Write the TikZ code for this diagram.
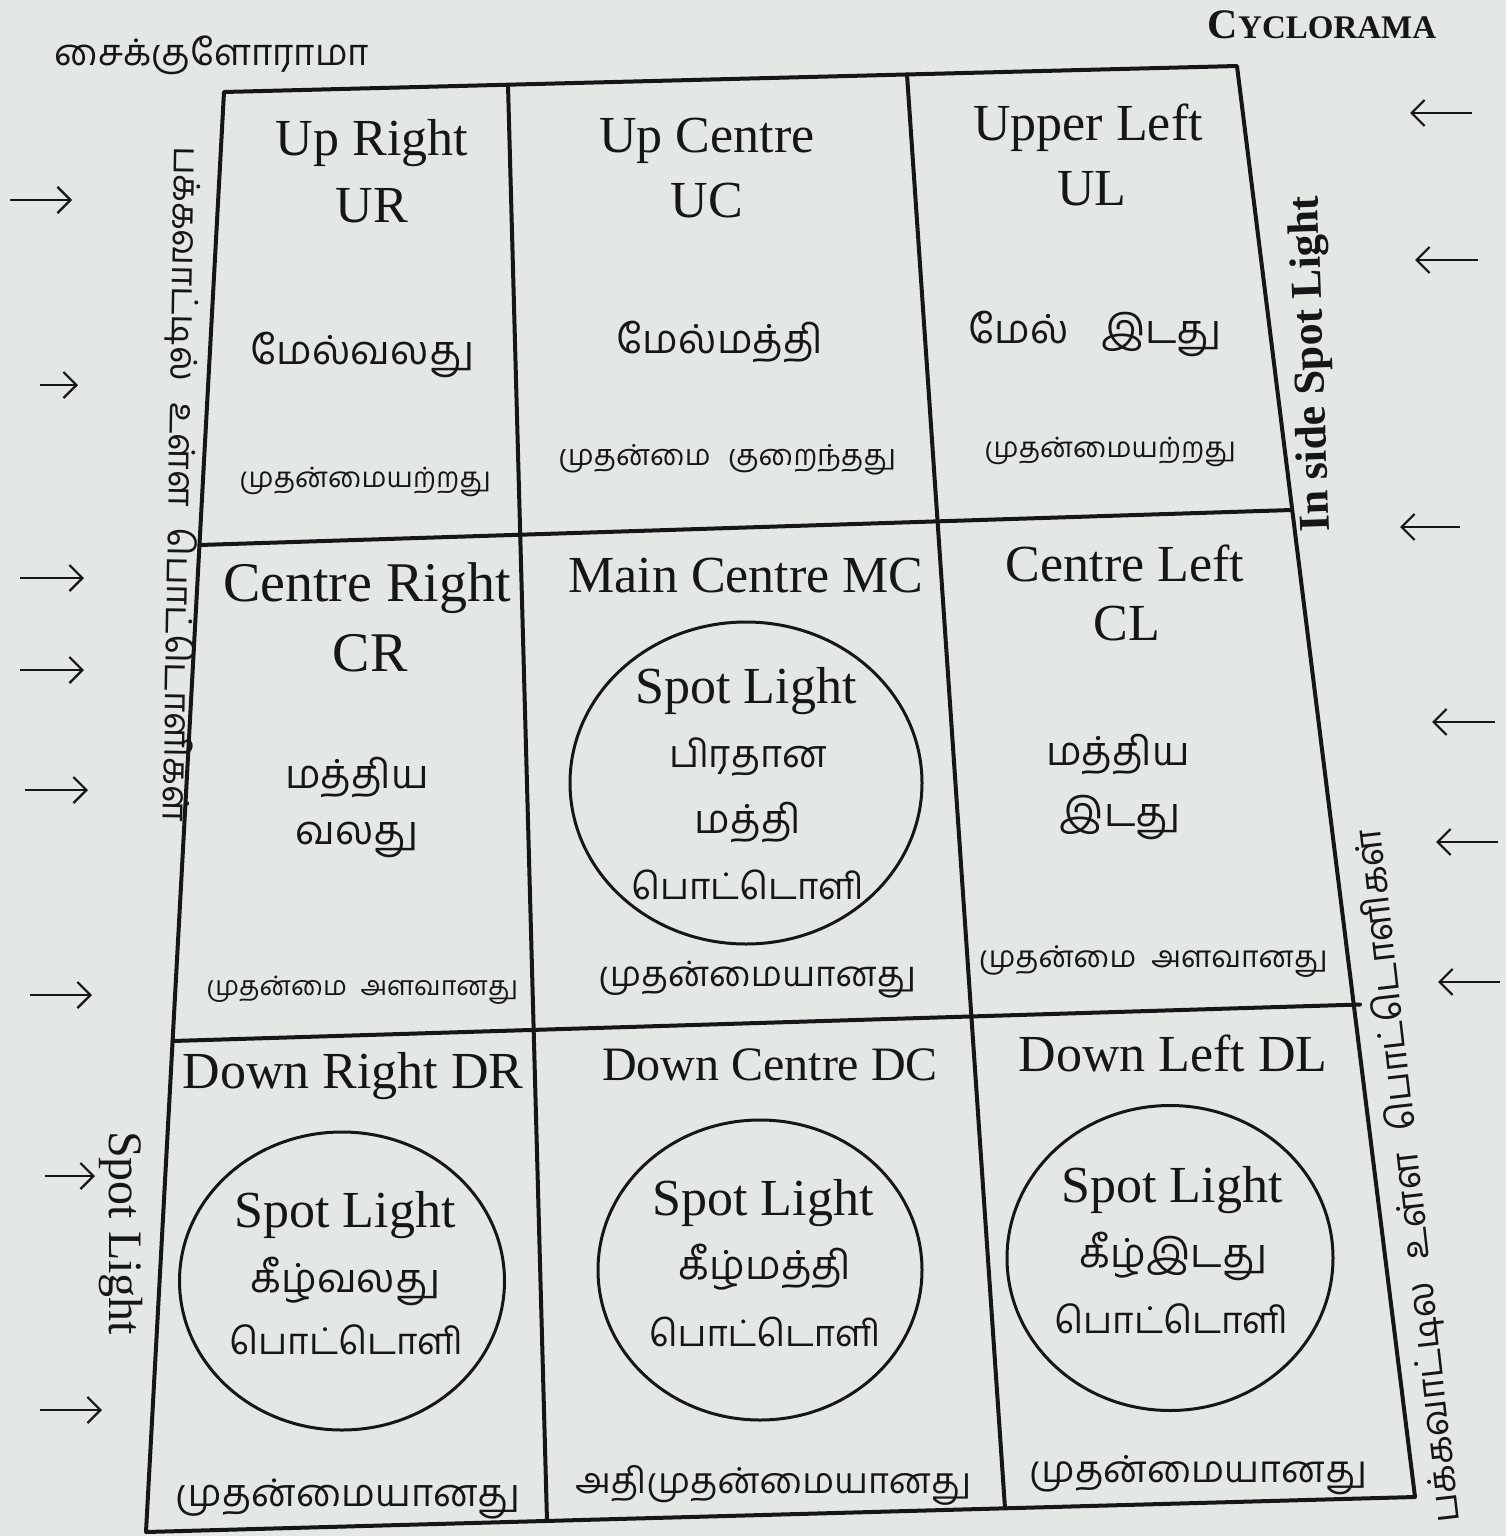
\documentclass[tikz,border=0pt]{standalone}
\usepackage{fontspec}
\setmainfont{Liberation Serif}
\newfontfamily\tamil[Script=Tamil]{Hind Madurai}
\usetikzlibrary{arrows.meta,shapes.geometric}
\definecolor{paper}{RGB}{227,232,229}
\definecolor{ink}{RGB}{22,22,22}
\newcommand{\tsz}[1]{\tamil\fontsize{#1}{#1}\selectfont}
\begin{document}
\begin{tikzpicture}[x=0.5pt,y=-0.5pt,
  en/.style={font=\fontsize{26}{26}\selectfont, text=ink, inner sep=0pt},
  ta/.style={font=\tsz{20}, text=ink, inner sep=0pt},
  tas/.style={font=\tsz{14}, text=ink, inner sep=0pt},
  tam/.style={font=\tsz{18.5}, text=ink, inner sep=0pt},
  gridline/.style={draw=ink, line width=2pt, line cap=round, line join=round},
  spot/.style={draw=ink, line width=1.5pt, ellipse, inner sep=0pt},
  arr/.style={draw=ink, line width=1.1pt, -{Straight Barb[length=6.5pt,width=13pt,line width=1.1pt]}}]
\fill[paper] (0,0) rectangle (1506,1536);
\useasboundingbox (0,0) rectangle (1506,1536);

% grid coordinates
\coordinate (TL) at (224,92);
\coordinate (TR) at (1237,66);
\coordinate (BR) at (1415,1497);
\coordinate (BL) at (146,1532);
\coordinate (H1L) at (199.5,545);
\coordinate (H1R) at (1292,510);
\coordinate (H2L) at (172.6,1041);
\coordinate (H2R) at (1360,1004.5);
\coordinate (V1T) at (508,85);
\coordinate (V1B) at (547,1521);
\coordinate (V2T) at (907,74.5);
\coordinate (V2B) at (1005,1508);

\draw[gridline] (TL) -- (TR) -- (BR) -- (BL) -- cycle;
\draw[gridline] (H1L) -- (H1R);
\draw[gridline] (H2L) -- (H2R);
\draw[gridline] (V1T) -- (V1B);
\draw[gridline] (V2T) -- (V2B);

% spot light ellipses
\node[spot, minimum width=176pt, minimum height=161pt] (mcspot) at (746,783) {};
\node[spot, minimum width=162.5pt, minimum height=149pt] (drspot) at (342,1281) {};
\node[spot, minimum width=162pt, minimum height=150pt] (dcspot) at (760,1270) {};
\node[spot, minimum width=163pt, minimum height=152.5pt] (dlspot) at (1170,1258) {};

% row 1
\node[en] (urt) at (372,143) {Up Right};
\node[en] (urc) at (372,206) {UR};
\node[ta] (urta) at (362,355) {மேல்வலது};
\node[tas] (urpr) at (365,482) {முதன்மையற்றது};
\node[en] (uct) at (707,141) {Up Centre};
\node[en] (ucc) at (707,201) {UC};
\node[ta] (ucta) at (720,342) {மேல்மத்தி};
\node[tas, font=\tsz{14.5}] (ucpr) at (727,460) {முதன்மை\hspace{0.6em}குறைந்தது};
\node[en] (ult) at (1088,128) {Upper Left};
\node[en] (ulc) at (1092,189) {UL};
\node[ta] (ulta) at (1095,334) {மேல்\hspace{0.8em}இடது};
\node[tas] (ulpr) at (1110,452) {முதன்மையற்றது};

% row 2
\node[en, font=\fontsize{28}{28}\selectfont] (crt) at (367,588) {Centre Right};
\node[en, font=\fontsize{28}{28}\selectfont] (crc) at (370,653) {CR};
\node[ta] (crta) at (357,777) {மத்திய};
\node[ta] (crtb) at (357,840) {வலது};
\node[tas, font=\tsz{13.4}] (crpr) at (362,990) {முதன்மை\hspace{0.5em}அளவானது};
\node[en] (mct) at (746,576) {Main Centre MC};
\node[en] (mcs) at (746,691) {Spot Light};
\node[ta, font=\tsz{19}] (mca) at (748,757) {பிரதான};
\node[ta] (mcb) at (748,822) {மத்தி};
\node[ta, font=\tsz{18.3}] (mcc) at (748,885) {பொட்டொளி};
\node[tam, font=\tsz{17.5}] (mcpr) at (757,980) {முதன்மையானது};
\node[en] (clt) at (1125,563) {Centre Left};
\node[en] (clc) at (1127,624) {CL};
\node[ta] (clta) at (1118,754) {மத்திய};
\node[ta] (cltb) at (1120,817) {இடது};
\node[tas, font=\tsz{15}] (clpr) at (1153,962) {முதன்மை\hspace{0.5em}அளவானது};

% row 3
\node[en] (drt) at (353,1076) {Down Right DR};
\node[en] (drs) at (345,1215) {Spot Light};
\node[ta] (dra) at (345,1281) {கீழ்வலது};
\node[ta, font=\tsz{18.4}] (drb) at (347,1340) {பொட்டொளி};
\node[tam, font=\tsz{19}] (drpr) at (348,1499) {முதன்மையானது};
\node[en, font=\fontsize{24}{24}\selectfont] (dct) at (770,1065) {Down Centre DC};
\node[en] (dcs) at (763,1203) {Spot Light};
\node[ta] (dca) at (765,1267) {கீழ்மத்தி};
\node[ta, font=\tsz{18.2}] (dcb) at (765,1332) {பொட்டொளி};
\node[tam, font=\tsz{17.9}] (dcpr) at (773,1485) {அதிமுதன்மையானது};
\node[en] (dlt) at (1173,1053) {Down Left DL};
\node[en] (dls) at (1172,1190) {Spot Light};
\node[ta] (dla) at (1173,1256) {கீழ்இடது};
\node[ta, font=\tsz{18.4}] (dlb) at (1172,1319) {பொட்டொளி};
\node[tam, font=\tsz{18.6}] (dlpr) at (1198,1475) {முதன்மையானது};

% outside labels
\node[tam, font=\tsz{18.3}] (cyta) at (212,55) {சைக்குளோராமா};
\node[text=ink, inner sep=0pt, font=\bfseries] (cyen) at (1322,25) {{\fontsize{21}{21}\selectfont C}{\fontsize{16.5}{16.5}\selectfont YCLORAMA}};
\node[tam, font=\tsz{18}, rotate=-91] (leftta) at (180,484) {பக்கவாட்டில்\hspace{0.6em}உள்ள\hspace{0.6em}பொட்டொளிகள்};
\node[tam, font=\tsz{18.6}, rotate=96.5] (rightta) at (1409,1176) {பக்கவாட்டில\hspace{0.6em}உள்ள\hspace{0.6em}பொட்டொளிகள்};
\node[text=ink, inner sep=0pt, font=\bfseries\fontsize{22}{22}\selectfont, rotate=92] (inside) at (1313,364) {In side Spot Light};
\node[text=ink, inner sep=0pt, font=\fontsize{24}{24}\selectfont, rotate=-90] (leftspot) at (121,1233) {Spot Light};

% left arrows
\foreach \i/\xa/\xb/\yy in {1/10/72/200, 2/40/78/385, 3/20/84/578, 4/20/84/670, 5/25/88/790, 6/30/92/995, 7/45/95/1176, 8/40/102/1410}{
  \coordinate (la\i s) at (\xa,\yy);
  \coordinate (la\i e) at (\xb,\yy);
  \draw[arr] (la\i s) -- (la\i e);
}
% right arrows
\foreach \i/\xa/\xb/\yy in {1/1472/1410/113, 2/1478/1415/260, 3/1460/1400/527, 4/1495/1432/722, 5/1498/1436/842, 6/1500/1438/982}{
  \coordinate (ra\i s) at (\xa,\yy);
  \coordinate (ra\i e) at (\xb,\yy);
  \draw[arr] (ra\i s) -- (ra\i e);
}
\end{tikzpicture}
\end{document}
